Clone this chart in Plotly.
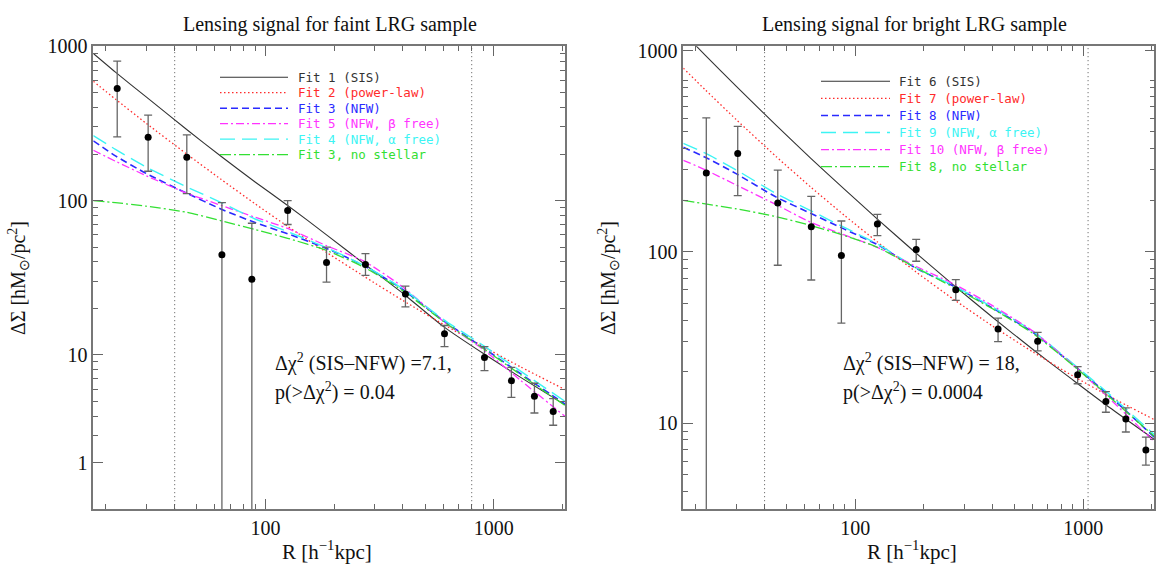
import math
import plotly.graph_objects as go

W, H = 1167, 569

# ---------------- data ----------------
# Faint LRG sample (left panel)
R_faint = [22.4, 30.6, 45.2, 64.4, 87.1, 125, 185, 274, 410, 608, 910, 1194, 1506, 1820]
dsig_faint = [532, 257, 191, 44.6, 30.9, 86.4, 39.7, 38.6, 24.8, 13.7, 9.6, 6.8, 5.4, 4.3]
hi_faint = [802, 358, 267, 97, 71.3, 100, 50, 45.3, 27.9, 15.5, 11.3, 8.3, 6.55, 5.2]
lo_faint = [259, 155, 111, 0.3, 0.3, 70, 29.6, 32.8, 20.5, 11.3, 7.9, 5.3, 4.2, 3.5]

# Bright LRG sample (right panel)
R_bright = [22.2, 30.5, 45.7, 64.1, 86.9, 125, 185, 276, 423, 631, 945, 1257, 1538, 1883]
dsig_bright = [288, 374, 192, 140, 95, 145, 103, 60, 35.5, 30.1, 19.2, 13.4, 10.6, 7.0]
hi_bright = [603, 537, 299, 210, 151, 165, 118, 68.7, 41, 33.9, 21.4, 15.3, 12.3, 8.3]
lo_bright = [1.0, 212, 83.4, 68.4, 38.4, 124, 88, 52, 29.9, 26.4, 17.0, 11.6, 8.9, 5.7]

# Model curves, sampled along R
R_model = [17.6, 22, 30, 45, 64, 90, 125, 185, 270, 400, 600, 900, 1300, 2050]

fit1_sis = [898, 680, 470, 290, 193, 132, 93, 60, 39, 25, 15.3, 10.2, 7.2, 4.75]
fit2_pl = [593, 455, 317, 201, 137, 95.3, 68.1, 46.2, 32.3, 22.5, 15.8, 11.3, 8.41, 5.96]
fit3_nfw = [244, 195, 150, 112, 88, 72, 61, 49, 37.8, 26.5, 16.7, 11.1, 7.6, 4.8]
fit5_nfw_beta = [212, 180, 145, 112, 93, 78, 66, 51, 40.5, 27.5, 16.5, 10.8, 6.9, 4.0]
fit4_nfw_alpha = [264, 215, 165, 123, 97, 76, 63, 49.5, 38, 26.8, 17, 11.5, 7.9, 5.0]
fit3_nostellar = [100, 97, 92, 84, 74, 65, 57, 47.5, 37, 26, 16.5, 11, 7.5, 4.7]

fit6_sis = [1886, 1394, 923, 545, 349, 230, 155, 98, 63.9, 41.5, 27.0, 17.9, 12.4, 8.06]
fit7_pl = [1175, 876, 590, 358, 237, 162, 114, 76.1, 52.8, 36.9, 26.1, 18.9, 14.4, 10.5]
fit8_nfw = [406, 355, 285, 208, 167, 135, 110, 80, 63, 47, 34, 22, 14.5, 8.3]
fit9_nfw_alpha = [428, 375, 300, 218, 173, 138, 111, 80.5, 63.5, 47.5, 34.5, 22.3, 14.8, 8.6]
fit10_nfw_beta = [341, 300, 245, 188, 148, 125, 106, 82, 65, 48.5, 34.5, 22, 14, 7.8]
fit8_nostellar = [199, 190, 178, 160, 142, 124, 106, 80.5, 62, 46.5, 33.5, 21.8, 14.3, 8.4]

# Vertical dotted markers
vlines_faint = [40, 800]
vlines_bright = [40, 1050]

# Axis ticks
x_ticks = [100, 1000]
x_ticktext = ["100", "1000"]
x_minor = [20, 30, 40, 50, 60, 70, 80, 90, 200, 300, 400, 500, 600, 700, 800, 900, 2000]
yL_ticks = [2, 10, 100, 1000]
yL_ticktext = ["1", "10", "100", "1000"]
yL_minor = [3, 4, 5, 6, 7, 8, 9, 20, 30, 40, 50, 60, 70, 80, 90, 200, 300, 400, 500, 600, 700, 800, 900]
yR_ticks = [10, 100, 1480]
yR_ticktext = ["10", "100", "1000"]
yR_minor = [4, 5, 6, 7, 8, 9, 20, 30, 40, 50, 60, 70, 80, 90, 200, 300, 400, 500, 600, 700, 800, 900, 1000]

titles = ["Lensing signal for faint LRG sample", "Lensing signal for bright LRG sample"]
notes = [["Δχ<sup>2</sup> (SIS–NFW) =7.1,", "p(>Δχ<sup>2</sup>) = 0.04"],
         ["Δχ<sup>2</sup> (SIS–NFW) = 18,", "p(>Δχ<sup>2</sup>) = 0.0004"]]

# ---------------- styles ----------------
BLACK = "#333333"
RED = "#ff2a2a"
BLUE = "#2a2aff"
MAGENTA = "#ff33ff"
CYAN = "#3cf4f4"
GREEN = "#33e033"

S_SOLID = dict(color=BLACK, width=1.1, dash="solid")
S_DOT = dict(color=RED, width=1.3, dash="1.5px,2.5px")
S_DASH = dict(color=BLUE, width=1.6, dash="7px,4px")
S_DASHDOT = dict(color=MAGENTA, width=1.3, dash="8px,3px,2px,3px")
S_LONG = dict(color=CYAN, width=1.4, dash="15px,7px")
S_GREEN = dict(color=GREEN, width=1.3, dash="11px,3px,2px,3px")

left_fits = [
    ("Fit 1 (SIS)", fit1_sis, S_SOLID),
    ("Fit 2 (power-law)", fit2_pl, S_DOT),
    ("Fit 3 (NFW)", fit3_nfw, S_DASH),
    ("Fit 5 (NFW, β free)", fit5_nfw_beta, S_DASHDOT),
    ("Fit 4 (NFW, α free)", fit4_nfw_alpha, S_LONG),
    ("Fit 3, no stellar", fit3_nostellar, S_GREEN),
]
right_fits = [
    ("Fit 6 (SIS)", fit6_sis, S_SOLID),
    ("Fit 7 (power-law)", fit7_pl, S_DOT),
    ("Fit 8 (NFW)", fit8_nfw, S_DASH),
    ("Fit 9 (NFW, α free)", fit9_nfw_alpha, S_LONG),
    ("Fit 10 (NFW, β free)", fit10_nfw_beta, S_DASHDOT),
    ("Fit 8, no stellar", fit8_nostellar, S_GREEN),
]

# layout geometry (pixels)
PLOT_L = [93.3, 565.0]
PLOT_R = [683.3, 1154.3]
PLOT_TOP, PLOT_BOT = 36.0, 508.0


def fx(p):
    return p / W


def fy(p):
    return 1 - p / H


fig = go.Figure()

panels = [
    dict(xa="x", ya="y", R=R_faint, d=dsig_faint, hi=hi_faint, lo=lo_faint, fits=left_fits,
         vl=vlines_faint),
    dict(xa="x2", ya="y2", R=R_bright, d=dsig_bright, hi=hi_bright, lo=lo_bright, fits=right_fits,
         vl=vlines_bright),
]

for p in panels:
    for name, vals, st in p["fits"]:
        fig.add_trace(go.Scatter(
            x=R_model, y=vals, mode="lines", name=name, showlegend=False,
            line=dict(color=st["color"], width=st["width"], dash=st["dash"], shape="spline", smoothing=0.6),
            xaxis=p["xa"], yaxis=p["ya"], hoverinfo="skip"))
    fig.add_trace(go.Scatter(
        x=p["R"], y=p["d"], mode="markers", showlegend=False,
        marker=dict(color="black", size=7),
        error_y=dict(type="data", symmetric=False,
                     array=[h - v for h, v in zip(p["hi"], p["d"])],
                     arrayminus=[v - l for v, l in zip(p["d"], p["lo"])],
                     color="#666666", thickness=1.3, width=4),
        xaxis=p["xa"], yaxis=p["ya"]))
    for xv in p["vl"]:
        fig.add_shape(type="line", xref=p["xa"], yref=p["ya"] + " domain",
                      x0=xv, x1=xv, y0=0, y1=1,
                      line=dict(color="#555555", width=1, dash="1px,3px"))

axis_font = dict(family="Liberation Serif", size=20, color="#111111")
common_x = dict(
    type="log", range=[math.log10(17.6), math.log10(2050)],
    tickmode="array", tickvals=x_ticks, ticktext=x_ticktext,
    ticks="inside", ticklen=10, tickwidth=1.2, tickcolor="#666666",
    minor=dict(tickmode="array", tickvals=x_minor, ticks="inside", ticklen=5, tickwidth=1.2,
               tickcolor="#666666", showgrid=False),
    showline=True, linecolor="#777777", linewidth=1.6, mirror="ticks",
    showgrid=False, zeroline=False, tickfont=axis_font,
)
common_y = dict(
    type="log", tickmode="array",
    ticks="inside", ticklen=10, tickwidth=1.2, tickcolor="#666666",
    showline=True, linecolor="#777777", linewidth=1.6, mirror="ticks",
    showgrid=False, zeroline=False, tickfont=axis_font,
)

ydom = [fy(PLOT_BOT), fy(PLOT_TOP)]
fig.update_layout(
    width=W, height=H, margin=dict(l=0, r=0, t=0, b=0),
    paper_bgcolor="white", plot_bgcolor="white", showlegend=False,
    xaxis=dict(common_x, domain=[fx(PLOT_L[0]), fx(PLOT_L[1])], anchor="y"),
    xaxis2=dict(common_x, domain=[fx(PLOT_R[0]), fx(PLOT_R[1])], anchor="y2"),
    yaxis=dict(common_y, domain=ydom, anchor="x", range=[0, 3],
               tickvals=yL_ticks, ticktext=yL_ticktext,
               minor=dict(tickmode="array", tickvals=yL_minor, ticks="inside", ticklen=5,
                          tickwidth=1.2, tickcolor="#666666", showgrid=False)),
    yaxis2=dict(common_y, domain=ydom, anchor="x2", range=[math.log10(3.16), math.log10(1574)],
                tickvals=yR_ticks, ticktext=yR_ticktext,
                minor=dict(tickmode="array", tickvals=yR_minor, ticks="inside", ticklen=5,
                           tickwidth=1.2, tickcolor="#666666", showgrid=False)),
)

annos = []
shapes = []
serif = "Liberation Serif"

# titles, axis titles, notes
for i, (pl, title, note) in enumerate(zip([PLOT_L, PLOT_R], titles, notes)):
    cx = (pl[0] + pl[1]) / 2 + (5 if i == 0 else 0)
    annos.append(dict(text=title, x=fx(cx - 4), y=fy(14), xref="paper", yref="paper",
                      showarrow=False, xanchor="center", yanchor="middle",
                      font=dict(family=serif, size=20, color="#111111")))
    annos.append(dict(text="R [h<sup>−1</sup>kpc]", x=fx(cx - 7), y=fy(550), xref="paper", yref="paper",
                      showarrow=False, xanchor="center", yanchor="middle",
                      font=dict(family=serif, size=21, color="#111111")))
    annos.append(dict(text="ΔΣ [hM<sub>⊙</sub>/pc<sup>2</sup>]", x=fx(pl[0] - 75), y=fy(272),
                      xref="paper", yref="paper", textangle=-90,
                      showarrow=False, xanchor="center", yanchor="middle",
                      font=dict(family=serif, size=20, color="#111111")))
    nx = 273 if i == 0 else 841
    for j, line in enumerate(note):
        annos.append(dict(text=line, x=fx(nx), y=fy(358 + 30 * j), xref="paper", yref="paper",
                          showarrow=False, xanchor="left", yanchor="middle",
                          font=dict(family=serif, size=20, color="#111111")))

# legends (drawn manually to get the long line samples of the original)
leg_geo = [
    dict(x0=220, x1=288, tx=296, y0=67.5, dy=15.8, fits=left_fits),
    dict(x0=821, x1=890, tx=897, y0=71.7, dy=17.4, fits=right_fits),
]
for g in leg_geo:
    for k, (name, _vals, st) in enumerate(g["fits"]):
        yy = g["y0"] + k * g["dy"]
        shapes.append(dict(type="line", xref="paper", yref="paper",
                           x0=fx(g["x0"]), x1=fx(g["x1"]), y0=fy(yy), y1=fy(yy),
                           line=dict(color=st["color"], width=st["width"], dash=st["dash"])))
        annos.append(dict(text=name, x=fx(g["tx"]), y=fy(yy), xref="paper", yref="paper",
                          showarrow=False, xanchor="left", yanchor="middle",
                          font=dict(family="DejaVu Sans Mono", size=12.5, color=st["color"])))

fig.update_layout(annotations=annos)
for s in shapes:
    fig.add_shape(**s)

fig.write_html(
    "out.html",
    config={"displayModeBar": False},
    post_script=(
        "var gd=document.getElementById('{plot_id}');"
        "gd.style.position='fixed';gd.style.left='0px';gd.style.top='0px';"
        "document.documentElement.style.margin='0';document.body.style.margin='0';"
        "document.documentElement.style.overflow='hidden';document.body.style.overflow='hidden';"
    ),
)
